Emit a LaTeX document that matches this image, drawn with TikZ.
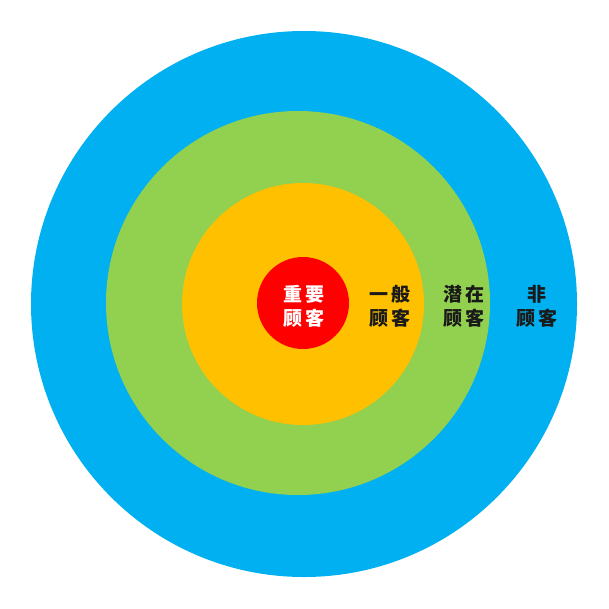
\documentclass[tikz,border=0pt]{standalone}
\usepackage{fontspec}
\newfontfamily\cjk[LetterSpace=12]{Noto Sans CJK SC}
\definecolor{cblue}{HTML}{00B0F0}
\definecolor{cgreen}{HTML}{92D050}
\definecolor{corange}{HTML}{FFC000}
\definecolor{cred}{HTML}{FF0000}
\definecolor{cdark}{HTML}{1A1A1A}
\tikzset{
  lab/.style={align=center, inner sep=0pt, font=\cjk\bfseries\fontsize{19}{24}\selectfont, text=cdark}
}
\begin{document}
\begin{tikzpicture}[x=1pt,y=-1pt]
\useasboundingbox (0,0) rectangle (609,608);
\fill[white] (0,0) rectangle (609,608);
\fill[cblue] (304,304) circle (273);
\fill[cgreen] (298,303) circle (192);
\fill[corange] (303,304) circle (121);
\fill[cred] (303,303) circle (46);
\node[lab, text=white] (important) at (304,306) {重要\\顾客};
\node[lab] (general) at (390,306) {一般\\顾客};
\node[lab] (potential) at (464,306) {潜在\\顾客};
\node[lab] (non) at (537,306) {非\\顾客};
\end{tikzpicture}
\end{document}
